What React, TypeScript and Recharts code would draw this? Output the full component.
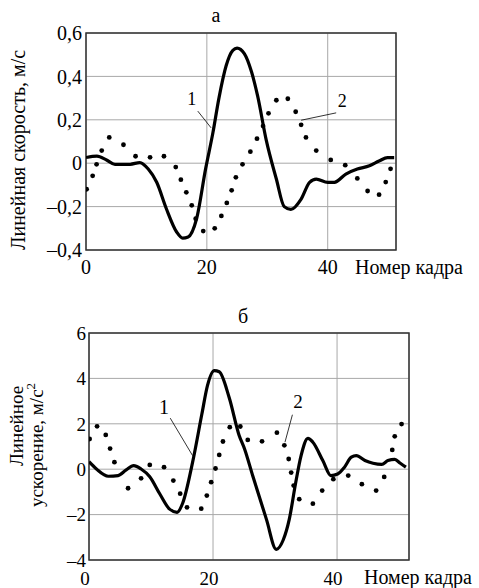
import React from 'react';
import {
  ComposedChart, Line, Scatter, XAxis, YAxis, CartesianGrid, ReferenceArea, ReferenceLine, ReferenceDot,
} from 'recharts';

// ---- Chart а: linear velocity ----
const velFrames1 = [0, 1.8, 3.4, 4.8, 7.3, 8.9, 10.3, 11.7, 13.3, 15.0, 16.0, 16.9, 18.3, 19.8, 21.0, 22.0, 23.2, 24.3, 25.0, 26.2, 27.4, 28.4, 29.8, 31.5, 32.8, 33.9, 35.6, 37.0, 38.1, 40.0, 41.1, 43.0, 44.9, 46.9, 48.5, 49.9, 51.0];
const velValues1 = [0.026, 0.033, 0.015, -0.005, -0.005, 0.003, -0.027, -0.088, -0.21, -0.317, -0.345, -0.34, -0.256, -0.025, 0.14, 0.30, 0.45, 0.52, 0.53, 0.505, 0.42, 0.31, 0.11, -0.073, -0.2, -0.213, -0.165, -0.088, -0.073, -0.088, -0.088, -0.05, -0.027, -0.012, 0.01, 0.026, 0.026];
const velFrames2 = [0.1, 1.1, 1.75, 2.6, 3.85, 6.2, 8.2, 10.6, 12.9, 14.85, 15.7, 16.6, 17.5, 18.15, 19.4, 21.3, 22.4, 23.3, 24.1, 24.8, 25.9, 27.2, 28.3, 29.3, 30.2, 31.5, 33.4, 34.7, 35.6, 36.4, 38.1, 40.5, 42.9, 44.9, 46.6, 48.5, 49.6, 50.4];
const velValues2 = [-0.12, -0.058, -0.005, 0.058, 0.119, 0.085, 0.032, 0.027, 0.032, -0.018, -0.076, -0.134, -0.194, -0.256, -0.313, -0.30, -0.243, -0.183, -0.125, -0.065, -0.005, 0.053, 0.113, 0.171, 0.23, 0.29, 0.297, 0.237, 0.177, 0.119, 0.058, 0.015, -0.009, -0.07, -0.128, -0.145, -0.087, -0.026];
const velTicks = [-0.4, -0.2, 0, 0.2, 0.4, 0.6];

// ---- Chart б: linear acceleration ----
const accFrames1 = [0, 1.2, 3.1, 4.7, 6.0, 7.2, 8.4, 9.8, 11.4, 13.0, 14.2, 15.1, 16.7, 18.2, 19.1, 20.2, 21.0, 22.6, 24.2, 25.1, 26.4, 28.6, 30.2, 31.3, 32.3, 33.3, 34.2, 35.3, 36.1, 37.7, 39.0, 40.1, 41.2, 42.3, 43.1, 44.5, 45.8, 47.2, 48.2, 49.3, 50.2, 51.1];
const accValues1 = [0.33, 0.01, -0.31, -0.28, -0.03, 0.16, 0.01, -0.33, -1.08, -1.76, -1.9, -1.5, 0.3, 2.43, 3.68, 4.34, 4.29, 3.16, 1.5, 0.88, -0.29, -2.2, -3.53, -3.13, -2.2, -0.64, 0.6, 1.36, 1.19, 0.38, -0.28, -0.21, 0.09, 0.53, 0.6, 0.38, 0.26, 0.21, 0.38, 0.43, 0.26, 0.09];
const accFrames2 = [0.1, 1.3, 2.7, 3.4, 4.1, 6.3, 8.4, 9.8, 12.1, 13.6, 14.7, 15.8, 18.1, 19.0, 19.7, 20.4, 21.0, 21.6, 22.7, 24.4, 25.6, 27.9, 30.3, 31.5, 32.2, 32.6, 33.0, 33.9, 36.1, 37.6, 39.4, 41.8, 44.0, 46.3, 47.6, 48.9, 49.3, 50.4];
const accValues2 = [1.33, 1.89, 1.51, 0.91, 0.31, -0.84, -0.40, 0.19, 0.09, -0.5, -1.08, -1.68, -1.74, -1.16, -0.57, 0.03, 0.63, 1.22, 1.85, 1.88, 1.29, 1.23, 1.61, 1.05, 0.45, -0.15, -0.72, -1.32, -1.52, -0.94, -0.44, -0.28, -0.66, -0.94, -0.34, 0.85, 1.45, 1.99];
const accTicks = [-4, -2, 0, 2, 4, 6];

const xTicks = [0, 20, 40];

const zip = (fs: number[], vs: number[]) => fs.map((f, i) => ({ f, v: vs[i] }));

const velLine = zip(velFrames1, velValues1);
const velDots = zip(velFrames2, velValues2);
const accLine = zip(accFrames1, accValues1);
const accDots = zip(accFrames2, accValues2);

const FONT = 'Liberation Serif, DejaVu Serif, serif';
const tickStyle = { fontFamily: FONT, fontSize: 20, fill: '#000', style: { fontFamily: FONT } };
const tickStyleB = { fontFamily: FONT, fontSize: 19, fill: '#000', style: { fontFamily: FONT } };

const dash = (v: number) => (v < 0 ? '–' : '');
const fmtVel = (v: number) => (v === 0 ? '0' : dash(v) + Math.abs(v).toFixed(1).replace('.', ','));
const fmtAcc = (v: number) => (v === 0 ? '0' : dash(v) + String(Math.abs(v)));

const Dot = (p: any) => <circle cx={p.cx} cy={p.cy} r={2.4} fill="#000" />;

const annLabel = (value: string, size: number) => ({
  value, position: 'center' as const, fontFamily: FONT, fontSize: size, fill: '#000', style: { fontFamily: FONT },
});

export default function App() {
  return (
    <div style={{ position: 'absolute', left: 0, top: 0, width: 479, height: 588, background: '#fff', fontFamily: FONT }}>
      <div style={{ position: 'absolute', left: 0, top: 0 }}>
        <ComposedChart width={479} height={290} margin={{ top: 33, right: 83, bottom: 10, left: 26 }}>
          <CartesianGrid stroke="#a8a8a8" strokeWidth={1} />
          <XAxis type="number" dataKey="f" domain={[0, 51.3]} ticks={xTicks} allowDataOverflow
            axisLine={false} tickLine={false} tickSize={6} tickMargin={4} height={30} tick={tickStyle} />
          <YAxis type="number" domain={[-0.4, 0.6]} ticks={velTicks} allowDataOverflow width={60}
            axisLine={false} tickLine={false} tickSize={4} tickMargin={0} tick={tickStyle} tickFormatter={fmtVel} />
          <ReferenceArea x1={0} x2={51.3} y1={-0.4} y2={0.6} fill="none" stroke="#333" strokeWidth={1.5} ifOverflow="visible" />
          <Scatter data={velDots} dataKey="v" shape={Dot} isAnimationActive={false} />
          <Line data={velLine} dataKey="v" type="monotone" stroke="#000" strokeWidth={3.2} dot={false} isAnimationActive={false} />
          <ReferenceLine segment={[{ x: 18.5, y: 0.24 }, { x: 20.7, y: 0.163 }]} stroke="#000" strokeWidth={0.8} ifOverflow="visible" />
          <ReferenceLine segment={[{ x: 41.4, y: 0.232 }, { x: 35.6, y: 0.198 }]} stroke="#000" strokeWidth={0.8} ifOverflow="visible" />
          <ReferenceDot x={17.5} y={0.297} r={0} fill="none" stroke="none" label={annLabel('1', 18)} />
          <ReferenceDot x={42.4} y={0.29} r={0} fill="none" stroke="none" label={annLabel('2', 18)} />
        </ComposedChart>
      </div>
      <div style={{ position: 'absolute', left: 0, top: 300 }}>
        <ComposedChart width={479} height={290} margin={{ top: 33, right: 70, bottom: 5, left: 29 }}>
          <CartesianGrid stroke="#a8a8a8" strokeWidth={1} />
          <XAxis type="number" dataKey="f" domain={[0, 51.6]} ticks={xTicks} allowDataOverflow
            axisLine={false} tickLine={false} tickSize={6} tickMargin={6} height={25} tick={{ ...tickStyleB, dx: -4 }} />
          <YAxis type="number" domain={[-4, 6]} ticks={accTicks} allowDataOverflow width={60}
            axisLine={false} tickLine={false} tickSize={3} tickMargin={0} tick={tickStyleB} tickFormatter={fmtAcc} />
          <ReferenceArea x1={0} x2={51.6} y1={-4} y2={6} fill="none" stroke="#333" strokeWidth={1.5} ifOverflow="visible" />
          <Scatter data={accDots} dataKey="v" shape={Dot} isAnimationActive={false} />
          <Line data={accLine} dataKey="v" type="monotone" stroke="#000" strokeWidth={3.2} dot={false} isAnimationActive={false} />
          <ReferenceLine segment={[{ x: 13.1, y: 2.25 }, { x: 16.7, y: 0.6 }]} stroke="#000" strokeWidth={0.8} ifOverflow="visible" />
          <ReferenceLine segment={[{ x: 32.8, y: 2.4 }, { x: 31.6, y: 1.19 }]} stroke="#000" strokeWidth={0.8} ifOverflow="visible" />
          <ReferenceDot x={12.1} y={2.75} r={0} fill="none" stroke="none" label={annLabel('1', 20)} />
          <ReferenceDot x={33.7} y={3.01} r={0} fill="none" stroke="none" label={annLabel('2', 19)} />
        </ComposedChart>
      </div>
      <svg width={479} height={588} style={{ position: 'absolute', left: 0, top: 0, pointerEvents: 'none', fontFamily: FONT }}
        fill="#000">
        <text x={216} y={22} textAnchor="middle" fontSize={20}>а</text>
        <text x={243} y={323} textAnchor="middle" fontSize={20}>б</text>
        <text transform="translate(25,150) rotate(-90)" textAnchor="middle" fontSize={20}>Линейная скорость, м/с</text>
        <text transform="translate(23,426) rotate(-90)" textAnchor="middle" fontSize={19}>Линейное</text>
        <text transform="translate(43,445) rotate(-90)" textAnchor="middle" fontSize={19}>
          ускорение, м/с<tspan dy={-8} fontSize={13}>2</tspan>
        </text>
        <text x={355} y={274} fontSize={20}>Номер кадра</text>
        <text x={364} y={584} fontSize={20}>Номер кадра</text>
      </svg>
    </div>
  );
}
